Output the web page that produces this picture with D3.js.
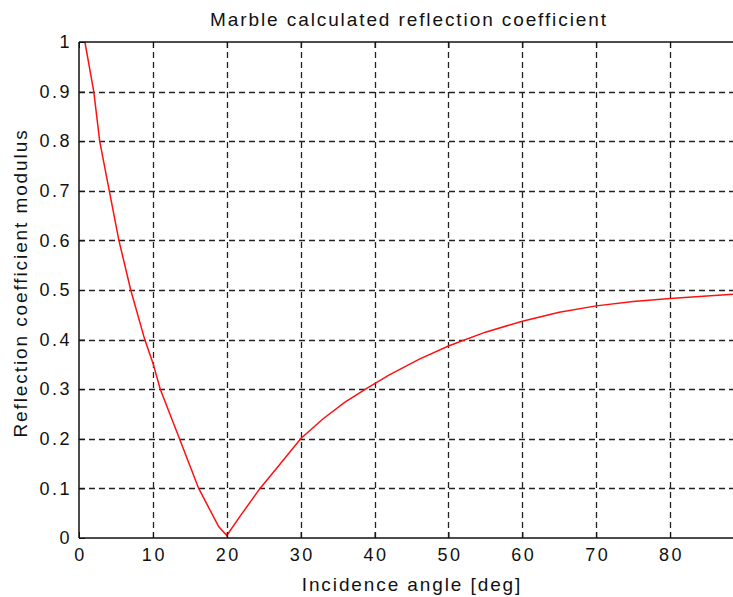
<!DOCTYPE html>
<html><head><meta charset="utf-8">
<script src="https://cdn.jsdelivr.net/npm/d3@7"></script>
<style>body{margin:0;background:#fff;overflow:hidden}text{font-family:"Liberation Sans",Arial,sans-serif;fill:#111}</style>
</head><body><svg id="c" width="733" height="597"></svg>
<script>
const angles = [0.8, 2.0, 2.8, 4.1, 5.4, 7.0, 8.9, 10, 11, 13.6, 16.2, 18.9, 20, 22, 24.5, 27, 30, 33, 36, 39, 42, 46, 50, 55, 60, 65, 70, 75, 80, 85, 90];
const modulus = [1.0, 0.9, 0.8, 0.7, 0.6, 0.5, 0.4, 0.353, 0.3, 0.2, 0.1, 0.023, 0.005, 0.048, 0.1, 0.145, 0.2, 0.24, 0.274, 0.302, 0.329, 0.36, 0.387, 0.415, 0.437, 0.455, 0.468, 0.477, 0.483, 0.488, 0.493];
const xTicks = [0, 10, 20, 30, 40, 50, 60, 70, 80];
const yTicks = [0, 0.1, 0.2, 0.3, 0.4, 0.5, 0.6, 0.7, 0.8, 0.9, 1];
const title = "Marble calculated reflection coefficient";
const xLabel = "Incidence angle [deg]";
const yLabel = "Reflection coefficient modulus";

const svg = d3.select("#c");
const L = 79, R = 744, T = 42, B = 538;
const x = d3.scaleLinear().domain([0, 90]).range([L, R]);
const y = d3.scaleLinear().domain([0, 1]).range([B, T]);

const g = svg.append("g");
g.selectAll(".gx").data(xTicks.filter(d => d > 0)).join("line")
  .attr("x1", d => Math.round(x(d)) + 0.5).attr("x2", d => Math.round(x(d)) + 0.5)
  .attr("y1", T).attr("y2", B)
  .attr("stroke", "#222").attr("stroke-width", 1.3).attr("stroke-dasharray", "6,4");
g.selectAll(".gy").data(yTicks.filter(d => d > 0 && d < 1)).join("line")
  .attr("y1", d => Math.round(y(d)) + 0.5).attr("y2", d => Math.round(y(d)) + 0.5)
  .attr("x1", L).attr("x2", R)
  .attr("stroke", "#222").attr("stroke-width", 1.3).attr("stroke-dasharray", "6,4");

const pts = angles.map((a, i) => [a, modulus[i]]);
svg.append("path").datum(pts)
  .attr("d", d3.line().x(d => x(d[0])).y(d => y(d[1])))
  .attr("fill", "none").attr("stroke", "#ff1010").attr("stroke-width", 1.5);

const xAxis = d3.axisBottom(x).tickValues(xTicks).tickSize(-6).tickPadding(10).tickFormat(d3.format("d"));
const yAxis = d3.axisLeft(y).tickValues(yTicks).tickSize(-6).tickPadding(9).tickFormat(d => d === 0 || d === 1 ? String(d) : d3.format(".1f")(d));
const ax = svg.append("g").attr("transform", `translate(0,${B})`).call(xAxis);
const ay = svg.append("g").attr("transform", `translate(${L},0)`).call(yAxis);
const axTop = svg.append("g").attr("transform", `translate(0,${T})`).call(d3.axisTop(x).tickValues(xTicks).tickSize(-6).tickFormat(""));
[ax, ay, axTop].forEach(a => {
  a.select(".domain").attr("stroke", "#111").attr("stroke-width", 1.5);
  a.selectAll(".tick line").attr("stroke", "#111");
  a.selectAll("text").style("font-size", "18px").style("letter-spacing", "2.5px").attr("fill", "#111");
});
ay.selectAll("text").attr("dx", "2px");
ax.selectAll("text").attr("dx", "1px");
ax.select(".domain").attr("d", `M${L},0H${R}`);
axTop.select(".domain").attr("d", `M${L},0H${R}`);
ay.select(".domain").attr("d", `M0,${B}V${T}`);

svg.append("text").attr("x", 409).attr("y", 26).attr("text-anchor", "middle")
  .style("font-size", "19px").style("letter-spacing", "1.9px").text(title);
svg.append("text").attr("x", 412).attr("y", 591).attr("text-anchor", "middle")
  .style("font-size", "19px").style("letter-spacing", "1.9px").text(xLabel);
svg.append("text").attr("transform", `translate(27,283) rotate(-90)`).attr("text-anchor", "middle")
  .style("font-size", "19px").style("letter-spacing", "1.9px").text(yLabel);
</script></body></html>
